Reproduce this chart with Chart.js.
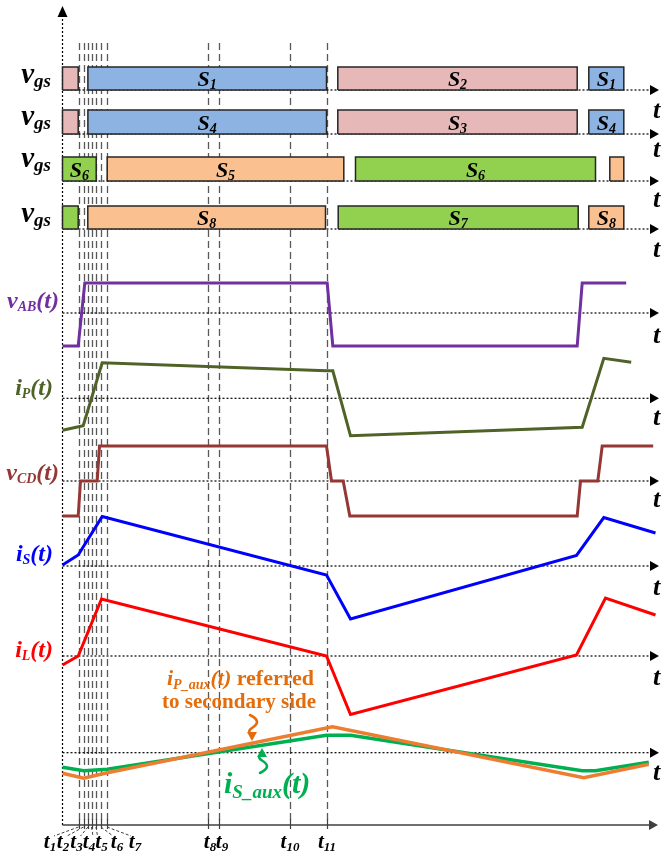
<!DOCTYPE html>
<html><head><meta charset="utf-8">
<script src="https://cdn.jsdelivr.net/npm/chart.js@4/dist/chart.umd.min.js"></script>
<style>html,body{margin:0;padding:0;background:#fff;overflow:hidden}canvas{display:block}</style>
</head><body>
<canvas id="c" width="665" height="858"></canvas>
<script>
// ---------- DATA (time in time-units from the origin) ----------
const instantNames = ['1','2','3','4','5','6','7','8','9','10','11'];
const instantTimes = [16, 21, 25.5, 29, 33.5, 38.5, 44.5, 145, 156, 227, 264];

// gate signals: on/off instants, switch number, whether labelled
const row1On  = [0, 25.4, 275.3, 526.3];
const row1Off = [15.7, 264, 514.7, 561.3];
const row1Sw  = ['2', '1', '2', '1'];
const row1Tag = [false, true, true, true];

const row2On  = [0, 25.4, 275.3, 526.3];
const row2Off = [15.7, 264, 514.7, 561.3];
const row2Sw  = ['3', '4', '3', '4'];
const row2Tag = [false, true, true, true];

const row3On  = [0, 44.7, 293, 547.3];
const row3Off = [33.7, 281.3, 533, 561.3];
const row3Sw  = ['6', '5', '6', '5'];
const row3Tag = [true, true, true, false];

const row4On  = [0, 25.3, 275.7, 526.3];
const row4Off = [15.7, 263, 515.7, 561.3];
const row4Sw  = ['7', '8', '7', '8'];
const row4Tag = [false, true, true, true];

// waveforms (normalised units)
const vabT = [0, 15.7, 22.3, 264.7, 270.3, 514.7, 519.7, 563.7];
const vabV = [-1.1, -1.1, 1, 1, -1.1, -1.1, 1, 1];

const ipT = [0, 20.7, 39.7, 264, 270.3, 288, 519.7, 541.3, 568.7];
const ipV = [-3.2, -2.75, 3.55, 2.75, 2.75, -3.75, -2.9, 4.0, 3.6];

const vcdT = [0, 15.7, 18, 34.7, 37, 264, 269, 280.7, 287.3, 514.7, 518, 535.3, 539.7, 590.7];
const vcdV = [-1, -1, 0, 0, 1, 1, 0, 0, -1, -1, 0, 0, 1, 1];

const isT = [0, 15.7, 39.7, 264, 288, 514, 541.3, 593];
const isV = [0.1, 1.1, 4.95, -0.9, -5.3, 1.05, 4.85, 3.3];

const ilT = [0, 15.7, 39, 264, 288, 514, 543, 593];
const ilV = [-0.9, 0, 5.7, 0, -5.85, 0.1, 5.8, 4.1];

const ipAuxT = [0, 21.3, 44.7, 270, 521.3, 586.3];
const ipAuxV = [-2.05, -2.55, -2.0, 2.6, -2.5, -1.15];

const isAuxT = [0, 21.3, 44.7, 264, 288, 519.7, 533, 586.3];
const isAuxV = [-1.45, -1.8, -1.65, 1.75, 1.75, -1.8, -1.8, -0.95];

// ---------- LAYOUT / STYLE ----------
const W = 665, H = 858;
const FONT = '"Liberation Serif", "Times New Roman", serif';
const swColor = {'1':'#8db3e2','4':'#8db3e2','2':'#e6b9b8','3':'#e6b9b8','5':'#fac090','8':'#fac090','6':'#92d050','7':'#92d050'};

function band(basePx, pxPerUnit){
  return {type:'linear', display:false, min: -(H - basePx) / pxPerUnit, max: basePx / pxPerUnit};
}

const gateRows = [
  {id:'g1', on:row1On, off:row1Off, sw:row1Sw, tag:row1Tag, base:90,  k:23, lab:83,  tLab:118},
  {id:'g2', on:row2On, off:row2Off, sw:row2Sw, tag:row2Tag, base:134, k:24, lab:125, tLab:157},
  {id:'g3', on:row3On, off:row3Off, sw:row3Sw, tag:row3Tag, base:181, k:24, lab:167, tLab:207},
  {id:'g4', on:row4On, off:row4Off, sw:row4Sw, tag:row4Tag, base:229, k:23, lab:222, tLab:257}
];

const waves = [
  {id:'vab', T:vabT, V:vabV, base:313, k:30,  color:'#7030a0', tLab:343,
   label:[['v',24,1],['AB',14,1,3],['(t)',24,1]], lx:59, ly:308},
  {id:'ip', T:ipT, V:ipV, base:398.3, k:10, color:'#4f6228', tLab:425,
   label:[['i',24,1],['P',14,1,3],['(t)',24,1]], lx:53, ly:395},
  {id:'vcd', T:vcdT, V:vcdV, base:481, k:35, color:'#953735', tLab:507,
   label:[['v',24,1],['CD',14,1,3],['(t)',24,1]], lx:59, ly:480},
  {id:'is', T:isT, V:isV, base:566, k:10, color:'#0000ff', tLab:595,
   label:[['i',24,1],['S',14,1,3],['(t)',24,1]], lx:53, ly:561},
  {id:'il', T:ilT, V:ilV, base:656, k:10, color:'#ff0000', tLab:685,
   label:[['i',24,1],['L',14,1,3],['(t)',24,1]], lx:53, ly:657},
  {id:'aux', T:null, V:null, base:752.7, k:10, color:null, tLab:780, label:null}
];

const scales = {
  x: {type:'linear', display:false, min:-62.5, max:W - 62.5}
};
gateRows.forEach(r => scales[r.id] = band(r.base, r.k));
waves.forEach(w => scales[w.id] = band(w.base, w.k));

const datasets = [];
function wave(T, V, axis, color, width){
  return {type:'line', data:T.map((t,i)=>({x:t, y:V[i]})), yAxisID:axis, xAxisID:'x',
    borderColor:color, borderWidth:width, pointRadius:0, tension:0, fill:false,
    borderJoinStyle:'miter', borderCapStyle:'butt'};
}
datasets.push(wave(ipAuxT, ipAuxV, 'aux', '#ed7d31', 3.5));
datasets.push(wave(isAuxT, isAuxV, 'aux', '#00b050', 3.5));
waves.forEach(w => { if (w.T) datasets.push(wave(w.T, w.V, w.id, w.color, 3)); });
gateRows.forEach(r => r.on.forEach((a, i) => {
  const b = r.off[i];
  datasets.push({type:'line', yAxisID:r.id, xAxisID:'x',
    data:[{x:a,y:0},{x:a,y:1},{x:b,y:1},{x:b,y:0},{x:a,y:0}],
    borderColor:'#262626', borderWidth:1.5, backgroundColor:swColor[r.sw[i]],
    fill:'shape', pointRadius:0, tension:0});
}));

// ---------- drawing helpers ----------
function fontOf(p){ return (p[2] ? 'italic ' : '') + 'bold ' + p[1] + 'px ' + FONT; }
function rich(ctx, x, y, parts, color, align){
  let w = 0;
  const ws = parts.map(p => { ctx.font = fontOf(p); const m = ctx.measureText(p[0]).width; w += m; return m; });
  let cx = align === 'center' ? x - w/2 : align === 'right' ? x - w : x;
  ctx.fillStyle = color; ctx.textBaseline = 'alphabetic'; ctx.textAlign = 'left';
  parts.forEach((p, i) => { ctx.font = fontOf(p); ctx.fillText(p[0], cx, y + (p[3] || 0)); cx += ws[i]; });
}
function hArrow(ctx, x0, x1, y){
  ctx.save();
  ctx.strokeStyle = '#000'; ctx.lineWidth = 1.2; ctx.setLineDash([2,2]);
  ctx.beginPath(); ctx.moveTo(x0, y); ctx.lineTo(x1 - 8, y); ctx.stroke();
  ctx.setLineDash([]); ctx.fillStyle = '#000';
  ctx.beginPath(); ctx.moveTo(x1, y); ctx.lineTo(x1 - 9, y - 5); ctx.lineTo(x1 - 9, y + 5); ctx.closePath(); ctx.fill();
  ctx.restore();
}
function squiggle(ctx, x, yTail, yTip, color){
  const dir = yTip > yTail ? 1 : -1;
  const L = Math.abs(yTip - yTail);
  ctx.save(); ctx.strokeStyle = color; ctx.fillStyle = color; ctx.lineWidth = 2.6; ctx.lineCap = 'round';
  ctx.beginPath();
  ctx.moveTo(x - 2, yTail);
  ctx.bezierCurveTo(x + 8, yTail + dir*L*0.2, x + 6, yTail + dir*L*0.35, x, yTail + dir*L*0.5);
  ctx.bezierCurveTo(x - 5, yTail + dir*L*0.62, x - 2, yTail + dir*L*0.72, x, yTip - dir*7);
  ctx.stroke();
  ctx.beginPath(); ctx.moveTo(x, yTip); ctx.lineTo(x - 5, yTip - dir*9); ctx.lineTo(x + 5, yTip - dir*9); ctx.closePath(); ctx.fill();
  ctx.restore();
}

const decor = {
  id:'decor',
  beforeDatasetsDraw(chart){
    const ctx = chart.ctx, xs = chart.scales.x;
    const x0 = xs.getPixelForValue(0);
    ctx.save();
    ctx.strokeStyle = '#595959'; ctx.lineWidth = 1.3; ctx.setLineDash([7,4]);
    instantTimes.forEach(t => {
      const px = Math.round(xs.getPixelForValue(t)) + 0.5;
      ctx.beginPath(); ctx.moveTo(px, 43); ctx.lineTo(px, 825); ctx.stroke();
    });
    ctx.setLineDash([]);
    ctx.strokeStyle = '#000'; ctx.lineWidth = 1.2; ctx.setLineDash([2,2]);
    ctx.beginPath(); ctx.moveTo(x0, 825); ctx.lineTo(x0, 16); ctx.stroke();
    ctx.setLineDash([]); ctx.fillStyle = '#000';
    ctx.beginPath(); ctx.moveTo(x0, 6); ctx.lineTo(x0 - 5, 17); ctx.lineTo(x0 + 5, 17); ctx.closePath(); ctx.fill();
    gateRows.forEach(r => hArrow(ctx, x0, 659, chart.scales[r.id].getPixelForValue(0)));
    waves.forEach(w => hArrow(ctx, x0, 659, chart.scales[w.id].getPixelForValue(0)));
    ctx.strokeStyle = '#404040'; ctx.lineWidth = 1.6;
    ctx.beginPath(); ctx.moveTo(x0, 825); ctx.lineTo(650, 825); ctx.stroke();
    ctx.fillStyle = '#404040';
    ctx.beginPath(); ctx.moveTo(658, 825); ctx.lineTo(649, 820); ctx.lineTo(649, 830); ctx.closePath(); ctx.fill();
    ctx.lineWidth = 1.2; ctx.strokeStyle = '#404040';
    instantTimes.forEach(t => {
      const px = Math.round(xs.getPixelForValue(t)) + 0.5;
      ctx.beginPath(); ctx.moveTo(px, 819); ctx.lineTo(px, 829); ctx.stroke();
    });
    ctx.restore();
  },
  afterDatasetsDraw(chart){
    const ctx = chart.ctx, xs = chart.scales.x;
    ctx.save();
    gateRows.forEach(r => {
      rich(ctx, 51, r.lab, [['v',29,1],['gs',19,1,4]], '#000', 'right');
      rich(ctx, 653, r.tLab, [['t',26,1]], '#000', 'left');
      const base = chart.scales[r.id].getPixelForValue(0);
      r.on.forEach((a, i) => {
        if (!r.tag[i]) return;
        const cx = (xs.getPixelForValue(a) + xs.getPixelForValue(r.off[i])) / 2;
        rich(ctx, cx, base - 4, [['S',22,1],[r.sw[i],14,1,3]], '#000', 'center');
      });
    });
    waves.forEach(w => {
      rich(ctx, 653, w.tLab, [['t',26,1]], '#000', 'left');
      if (w.label) rich(ctx, w.lx, w.ly, w.label, w.color, 'right');
    });
    rich(ctx, 167, 685, [['i',22,1],['P_aux',14,1,4],['(t)',22,1],[' referred',22,0]], '#e46c0a', 'left');
    rich(ctx, 162, 708, [['to secondary side',21,0]], '#e46c0a', 'left');
    rich(ctx, 224, 793, [['i',30,1],['S_aux',19,1,5],['(t)',30,1]], '#00b050', 'left');
    squiggle(ctx, 252, 715, 741, '#e46c0a');
    squiggle(ctx, 262, 773, 748, '#00b050');
    const labX = [50, 63, 76.5, 89, 101.5, 117, 135, 210, 222, 290, 327];
    ctx.strokeStyle = '#404040'; ctx.lineWidth = 1; ctx.setLineDash([3,2]);
    instantTimes.forEach((t, i) => {
      if (i > 6) return;
      const px = xs.getPixelForValue(t);
      const lx = labX[i] + (labX[i] < px ? 4 : -4);
      ctx.beginPath(); ctx.moveTo(px, 827); ctx.lineTo(lx, 836); ctx.stroke();
    });
    ctx.setLineDash([]);
    instantTimes.forEach((t, i) => {
      rich(ctx, labX[i], 848, [['t',21,1],[instantNames[i],13,1,3]], '#000', 'center');
    });
    ctx.restore();
  }
};

new Chart(document.getElementById('c'), {
  type:'line',
  data:{datasets},
  options:{
    responsive:false, animation:false, devicePixelRatio:1, events:[],
    layout:{padding:0},
    plugins:{legend:{display:false}, tooltip:{enabled:false}},
    scales
  },
  plugins:[decor]
});
</script>
</body></html>
